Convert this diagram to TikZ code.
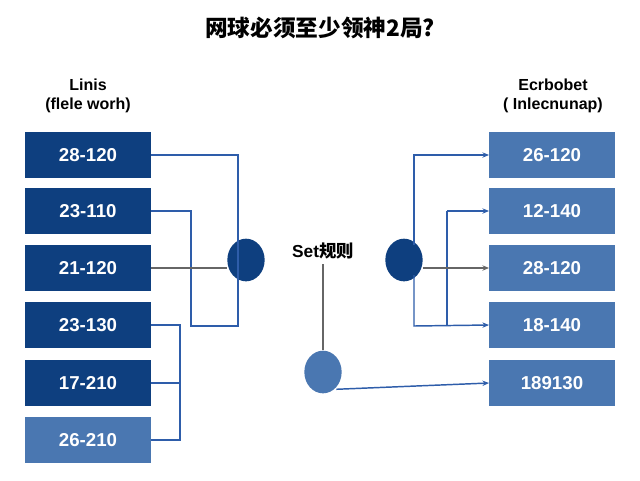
\documentclass[tikz,border=0pt]{standalone}
\usepackage{fontspec}
\setmainfont{Liberation Sans}
\newfontfamily\cjk{Noto Sans CJK SC}
\usetikzlibrary{arrows.meta}
\definecolor{dk}{HTML}{0E3F7F}
\definecolor{lt}{HTML}{4A77B1}
\definecolor{ln}{HTML}{2E5DAA}
\definecolor{gr}{HTML}{666666}
\begin{document}
\begin{tikzpicture}[x=0.75pt,y=-0.75pt,
 box/.style={draw=none,minimum width=94pt,minimum height=35pt,text=white,font=\bfseries\fontsize{14}{16}\selectfont,inner sep=0},
 dot/.style={ellipse,minimum width=28pt,minimum height=32pt,inner sep=0},
 wl/.style={draw=ln,line width=1.1pt},
 gl/.style={draw=gr,line width=1.1pt},
 ar/.style={-{Stealth[length=5pt,width=4pt]}},
 hd/.style={font=\bfseries\fontsize{12}{14}\selectfont,align=center}]
\usetikzlibrary{shapes.geometric}
\useasboundingbox (0,0) rectangle (640,480);
\fill[white] (0,0) rectangle (640,480);
\node[font=\cjk\bfseries\fontsize{17}{20}\selectfont] (t) at (320,28) {网球必须至少领神2局?};
\node[hd] (lh) at (88,96) {Linis\\(flele worh)};
\node[hd] (rh) at (553,96) {Ecrbobet\\( Inlecnunap)};
\foreach \n/\y/\t/\c in {1/155/28-120/dk,2/211/23-110/dk,3/268/21-120/dk,4/325/23-130/dk,5/383/17-210/dk,6/440/26-210/lt}
  \node[box,fill=\c] (l\n) at (88,\y) {\t};
\foreach \n/\y/\t in {1/155/26-120,2/211/12-140,3/268/28-120,4/325/18-140,5/383/189130}
  \node[box,fill=lt] (r\n) at (552,\y) {\t};
\node[dot,fill=dk] (cl) at (246,260) {};
\node[dot,fill=dk] (cr) at (404,260) {};
\node[dot,fill=lt] (cb) at (323,372) {};
\node[font=\bfseries\fontsize{13}{15}\selectfont] (set) at (323,251) {Set{\cjk 规则}};
\coordinate (sb) at (323,264);
% left
\draw[wl] (l1.east) -- (238,155) -- (238,326) -- (191,326) -- (191,211) -- (l2.east);
\draw[gl] (l3.east) -- (cl.west|-l3.east);
\draw[wl] (l4.east) -- (180,325) -- (180,440) -- (l6.east);
\draw[wl] (l5.east) -- (180,383);
% right
\draw[wl,ar] (cr.north) ++(10,0) coordinate (q) (414,245) -- (414,155) -- (r1.west);
\draw[wl,ar] (414,275) -- (414,326) -- (r4.west);
\draw[wl] (447,326) -- (447,211);
\draw[wl,ar] (447,211) -- (r2.west);
\draw[gl,ar] (cr.east|-r3.west) -- (r3.west);
\draw[gl] (sb) -- (cb.north);
\draw[wl,ar] (cb.south east) ++(0,2) -- (r5.west);
\end{tikzpicture}
\end{document}
